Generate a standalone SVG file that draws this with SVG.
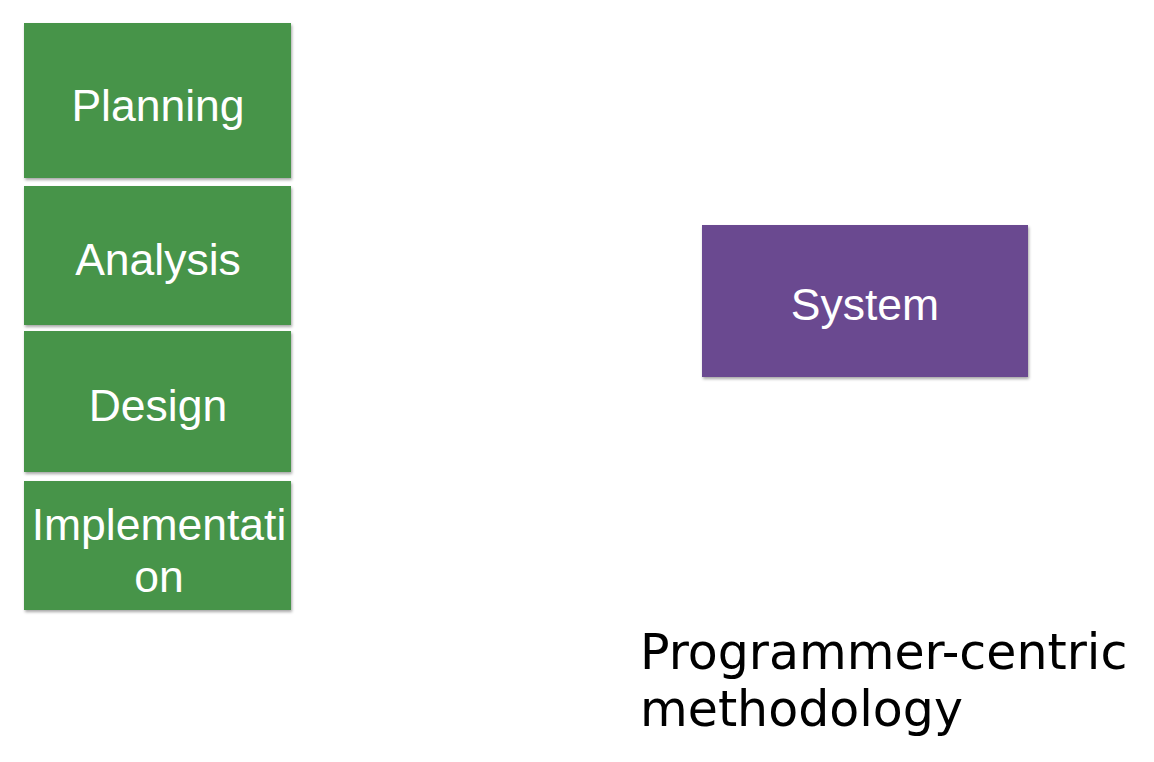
<svg xmlns="http://www.w3.org/2000/svg" width="1154" height="762" viewBox="0 0 1154 762">
<defs>
<filter id="sh" x="-5%" y="-5%" width="110%" height="115%">
<feDropShadow dx="1" dy="2" stdDeviation="1.5" flood-color="#000" flood-opacity="0.35"/>
</filter>
</defs>
<style>
.g{fill:#47944a;filter:url(#sh)}
.p{fill:#6a4a90;filter:url(#sh)}
.l{font-family:"Liberation Sans",Arial,sans-serif;font-size:44.5px;fill:#fff;text-anchor:middle}
.t{font-family:"DejaVu Sans",Verdana,sans-serif;font-size:49px;fill:#000}
</style>
<rect width="1154" height="762" fill="#fff"/>
<g id="planning"><rect class="g" x="24" y="23" width="267" height="155"/><text class="l" x="158" y="121">Planning</text></g>
<g id="analysis"><rect class="g" x="24" y="186" width="267" height="139"/><text class="l" x="158" y="275">Analysis</text></g>
<g id="design"><rect class="g" x="24" y="331" width="267" height="141"/><text class="l" x="158" y="421">Design</text></g>
<g id="implementation"><rect class="g" x="24" y="481" width="267" height="129"/><text class="l" x="159" y="540">Implementati</text><text class="l" x="159" y="592">on</text></g>
<g id="system"><rect class="p" x="702" y="225" width="326" height="152"/><text class="l" x="865" y="320">System</text></g>
<g id="connectors"></g>
<g id="caption"><text class="t" x="640" y="669">Programmer-centric</text><text class="t" x="640" y="726">methodology</text></g>
</svg>
